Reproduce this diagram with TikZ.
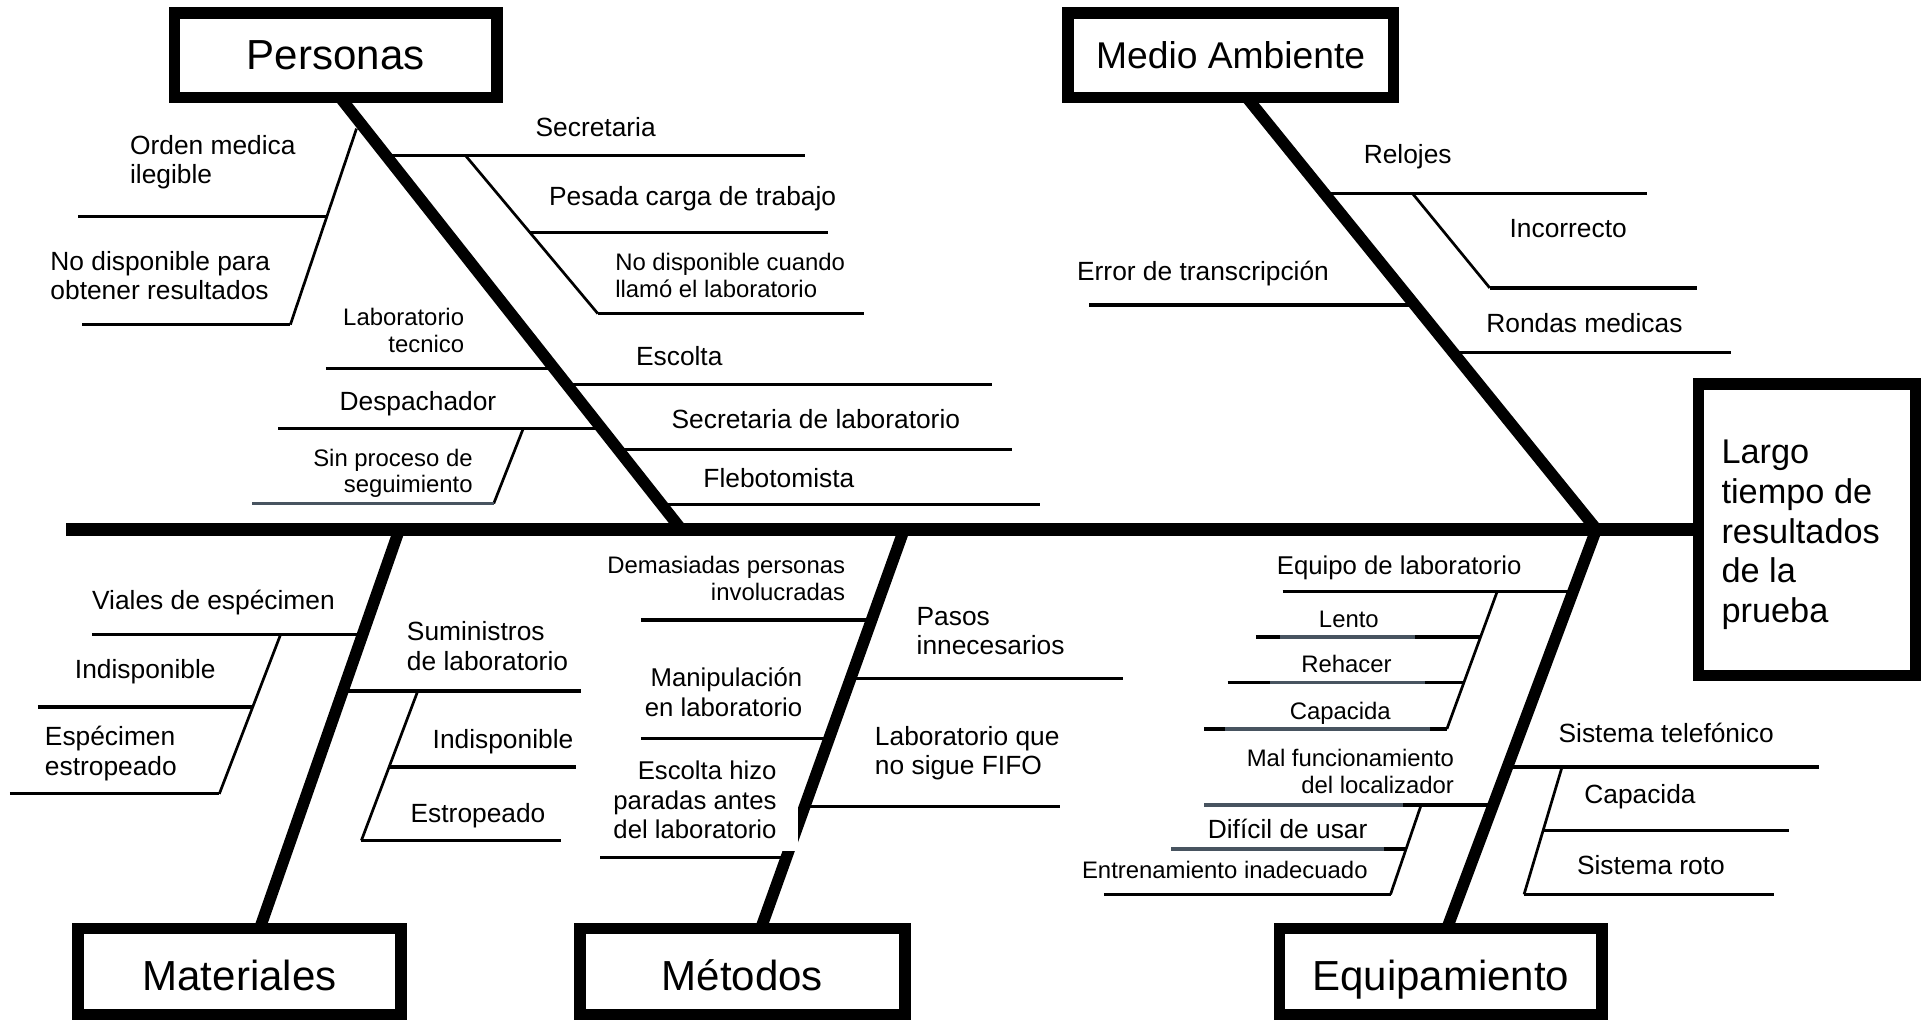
\documentclass[tikz,border=0pt]{standalone}
\usepackage{fontspec}
\setmainfont{Liberation Sans}
\definecolor{slate}{RGB}{72,84,96}
\newcommand\lblL{\fontsize{21.5}{24}\selectfont}
\newcommand\lblS{\fontsize{19.5}{22}\selectfont}
\newcommand\lblT{\fontsize{34.3}{40}\selectfont}
\begin{document}
\begin{tikzpicture}[x=1pt,y=-1pt,
  spine/.style={line width=11pt},
  bone/.style={line width=9.5pt},
  twig/.style={line width=2.6pt},
  subtwig/.style={line width=2.2pt},
  grey/.style={line width=2.8pt, draw=slate},
  box/.style={draw, line width=9.5pt, inner sep=0pt, fill=white, minimum height=69pt},
  lowtext/.style={text height=30.7pt, text depth=0pt},
  lw/.style={anchor=west, inner sep=0pt, font=\lblL, text height=0.72em, text depth=0pt, yshift=-4.5pt},
  lc/.style={anchor=center, inner sep=0pt, font=\lblS, text height=0.72em, text depth=0pt, yshift=-4.5pt},
  sw/.style={anchor=west, inner sep=0pt, font=\lblS, text height=0.72em, text depth=0pt, yshift=-4.5pt},
  mlw/.style={anchor=west, inner sep=0pt, font=\lblL, align=left},
  mle/.style={anchor=east, inner sep=0pt, font=\lblL, align=right},
  msw/.style={anchor=west, inner sep=0pt, font=\lblS, align=left},
  mse/.style={anchor=east, inner sep=0pt, font=\lblS, align=right}
]
\useasboundingbox (0,0) rectangle (1568,833);
\fill[white] (0,0) rectangle (1568,833);

% ---------- spine and main bones ----------
\coordinate (sL) at (54,432);
\coordinate (sR) at (1386,432);
\coordinate (jP) at (556,432);
\coordinate (jM) at (1303,432);
\coordinate (jMat) at (326,432);
\coordinate (jMet) at (738,432);
\coordinate (tP) at (278,80);
\coordinate (tM) at (1018,80);
\coordinate (bMat) at (212,758);
\coordinate (bMet) at (621,758);
\coordinate (bEq) at (1181,758);

\draw[bone] (tP) -- (jP);
\draw[bone] (tM) -- (jM);
\draw[bone] (jMat) -- (bMat);
\draw[bone] (jMet) -- (bMet);
\draw[bone] (jM) -- (bEq);
\draw[spine] (sL) -- (sR);

% ---------- Personas ----------
\coordinate (secS) at (312.4,127); \coordinate (secE) at (657,127);
\coordinate (psd1) at (380,127); \coordinate (psd2) at (488,256);
\coordinate (pesS) at (432.7,190); \coordinate (pesE) at (676,190);
\coordinate (ndcE) at (705,256);
\coordinate (escS) at (461.7,314); \coordinate (escE) at (810,314);
\coordinate (sdlS) at (504,367); \coordinate (sdlE) at (826,367);
\coordinate (fleS) at (540,412); \coordinate (fleE) at (849,412);
\coordinate (ltS) at (266,301); \coordinate (ltE) at (451.4,301);
\coordinate (desS) at (227,350); \coordinate (desE) at (490.5,350);
\coordinate (dsd1) at (427,350); \coordinate (dsd2) at (403,411);
\coordinate (spS) at (206,411);
\coordinate (lsd1) at (291,105); \coordinate (lsd2) at (237,265);
\coordinate (omS) at (64,177); \coordinate (omE) at (266.5,177);
\coordinate (ndpS) at (67,265);

\draw[twig] (secS) -- (secE);
\draw[subtwig] (psd1) -- (psd2);
\draw[twig] (pesS) -- (pesE);
\draw[twig] (psd2) -- (ndcE);
\draw[twig] (escS) -- (escE);
\draw[twig] (sdlS) -- (sdlE);
\draw[twig] (fleS) -- (fleE);
\draw[twig] (ltS) -- (ltE);
\draw[twig] (desS) -- (desE);
\draw[subtwig] (dsd1) -- (dsd2);
\draw[grey] (spS) -- (dsd2);
\draw[subtwig] (lsd1) -- (lsd2);
\draw[twig] (omS) -- (omE);
\draw[twig] (ndpS) -- (lsd2);

\node[mlw] (om) at (106,132.5) {Orden medica\\ilegible};
\node[mlw] (ndp) at (41,225) {No disponible para\\obtener resultados};
\node[lw] (sec) at (437,103) {Secretaria};
\node[lw] (pes) at (448,160) {Pesada carga de trabajo};
\node[msw] (ndc) at (502,225) {No disponible cuando\\llamó el laboratorio};
\node[mse] (lt) at (379,270) {Laboratorio\\tecnico};
\node[lw] (esc) at (519,290) {Escolta};
\node[lw] (des) at (277,327) {Despachador};
\node[lw] (sdl) at (548,342) {Secretaria de laboratorio};
\node[mse,font=\fontsize{19.5}{21}\selectfont] (sp) at (386,386.5) {Sin proceso de\\seguimiento};
\node[lw] (fle) at (574,390) {Flebotomista};

% ---------- Medio Ambiente ----------
\coordinate (relS) at (1078.6,158); \coordinate (relE) at (1344,158);
\coordinate (rsd1) at (1153,158); \coordinate (rsd2) at (1216,235);
\coordinate (incE) at (1385,235);
\coordinate (errS) at (889,249); \coordinate (errE) at (1153,249);
\coordinate (ronS) at (1185,288); \coordinate (ronE) at (1413,288);

\draw[twig] (relS) -- (relE);
\draw[subtwig] (rsd1) -- (rsd2);
\draw[twig] (rsd2) -- (incE);
\draw[twig] (errS) -- (errE);
\draw[twig] (ronS) -- (ronE);

\node[lw] (rel) at (1113,125) {Relojes};
\node[lw] (inc) at (1232,186) {Incorrecto};
\node[lw] (err) at (879,221) {Error de transcripción};
\node[lw] (ron) at (1213,263) {Rondas medicas};

% ---------- Materiales ----------
\coordinate (vieS) at (75,518); \coordinate (vieE) at (295.6,518);
\coordinate (vsd1) at (229,518); \coordinate (vsd2) at (179,648);
\coordinate (indAS) at (31,577); \coordinate (indAE) at (206.3,577);
\coordinate (espS) at (8,648);
\coordinate (sumS) at (279.4,564); \coordinate (sumE) at (474,564);
\coordinate (ssd1) at (341,564); \coordinate (ssd2) at (295,686);
\coordinate (indBS) at (317.6,626); \coordinate (indBE) at (470,626);
\coordinate (estE) at (458,686);

\draw[twig] (vieS) -- (vieE);
\draw[subtwig] (vsd1) -- (vsd2);
\draw[twig] (indAS) -- (indAE);
\draw[twig] (espS) -- (vsd2);
\draw[twig] (sumS) -- (sumE);
\draw[subtwig] (ssd1) -- (ssd2);
\draw[twig] (indBS) -- (indBE);
\draw[twig] (ssd2) -- (estE);

\node[lw] (vie) at (75,489) {Viales de espécimen};
\node[lw] (indA) at (61,546) {Indisponible};
\node[mlw] (esp) at (36.5,615) {Espécimen\\estropeado};
\node[mlw] (sum) at (332,527.5) {Suministros\\de laboratorio};
\node[lw] (indB) at (353,603) {Indisponible};
\node[lw] (est) at (335,663) {Estropeado};

% ---------- Métodos ----------
\coordinate (demS) at (523,506); \coordinate (demE) at (711.2,506);
\coordinate (manS) at (523,603); \coordinate (manE) at (676,603);
\coordinate (ehS) at (490,700); \coordinate (ehE) at (641,700);
\coordinate (pasS) at (693.8,554); \coordinate (pasE) at (917,554);
\coordinate (fifS) at (656,658); \coordinate (fifE) at (865,658);

\draw[twig] (demS) -- (demE);
\draw[twig] (manS) -- (manE);
\draw[twig] (ehS) -- (ehE);
\draw[twig] (pasS) -- (pasE);
\draw[twig] (fifS) -- (fifE);

\fill[white] (495,616) rectangle (651,695);
\node[mse] (dem) at (690,472) {Demasiadas personas\\involucradas};
\node[mle,font=\fontsize{21}{24}\selectfont] (man) at (655,565) {Manipulación\\en laboratorio};
\node[mle,font=\fontsize{21}{24}\selectfont] (eh) at (634,653) {Escolta hizo\\paradas antes\\del laboratorio};
\node[mlw] (pas) at (748,515) {Pasos\\innecesarios};
\node[mlw] (fif) at (714,615) {Laboratorio que\\no sigue FIFO};

% ---------- Equipamiento ----------
\coordinate (eqlS) at (1047,483); \coordinate (eqlE) at (1283.7,483);
\coordinate (esd1) at (1222,483); \coordinate (esd2) at (1181,595);
\coordinate (lenS) at (1025,520); \coordinate (lenE) at (1208.5,520);
\coordinate (rehS) at (1002,557); \coordinate (rehE) at (1195,557);
\coordinate (capS) at (983,595);
\coordinate (malS) at (983,657); \coordinate (malE) at (1218,657);
\coordinate (msd1) at (1160,657); \coordinate (msd2) at (1135,730);
\coordinate (difS) at (956,693); \coordinate (difE) at (1147.7,693);
\coordinate (entS) at (901,730);
\coordinate (stS) at (1229.7,626); \coordinate (stE) at (1485,626);
\coordinate (tsd1) at (1275,626); \coordinate (tsd2) at (1244,730);
\coordinate (capBS) at (1259.5,678); \coordinate (capBE) at (1460,678);
\coordinate (sroE) at (1448,730);

\draw[twig] (eqlS) -- (eqlE);
\draw[subtwig] (esd1) -- (esd2);
\draw[twig] (lenS) -- (lenE);
\draw[grey] (1045,520) -- (1155,520);
\draw[twig] (rehS) -- (rehE);
\draw[grey] (1037,557) -- (1163,557);
\draw[twig] (capS) -- (esd2);
\draw[grey] (1000,595) -- (1167,595);
\draw[twig] (malS) -- (malE);
\draw[grey] (983,657) -- (1145,657);
\draw[subtwig] (msd1) -- (msd2);
\draw[twig] (difS) -- (difE);
\draw[grey] (956,693) -- (1130,693);
\draw[twig] (entS) -- (msd2);
\draw[twig] (stS) -- (stE);
\draw[subtwig] (tsd1) -- (tsd2);
\draw[twig] (capBS) -- (capBE);
\draw[twig] (tsd2) -- (sroE);

\node[lw,font=\fontsize{21}{24}\selectfont] (eql) at (1042,461) {Equipo de laboratorio};
\node[lc] (len) at (1101,504) {Lento};
\node[lc] (reh) at (1099,541) {Rehacer};
\node[lc] (cap) at (1094,579) {Capacida};
\node[mse] (mal) at (1187,630) {Mal funcionamiento\\del localizador};
\node[lc,font=\lblL] (dif) at (1051,676) {Difícil de usar};
\node[sw] (ent) at (883,709) {Entrenamiento inadecuado};
\node[lw] (st) at (1272,598) {Sistema telefónico};
\node[lw] (capB) at (1293,648) {Capacida};
\node[lw] (sro) at (1287,706) {Sistema roto};

% ---------- category boxes ----------
\node[box, minimum width=263pt, font=\lblT] (personas) at (274,45) {Personas};
\node[box, minimum width=266pt, font=\fontsize{30.4}{36}\selectfont] (medio) at (1004.5,45) {Medio Ambiente};
\node[box, lowtext, minimum width=264pt, minimum height=70pt, font=\lblT] (materiales) at (195.5,793) {Materiales};
\node[box, lowtext, minimum width=265pt, minimum height=70pt, font=\lblT] (metodos) at (606,793) {Métodos};
\node[box, lowtext, minimum width=263pt, minimum height=70pt, font=\lblT] (equipamiento) at (1176,793) {Equipamiento};

% ---------- effect ----------
\node[box, minimum width=177pt, minimum height=238pt] (effect) at (1475,432.5) {};
\node[anchor=west, inner sep=0pt, align=left, font=\fontsize{28}{32.3}\selectfont]
  (effecttext) at (1405,436.5) {Largo\\tiempo de\\resultados\\de la\\prueba};
\end{tikzpicture}
\end{document}
